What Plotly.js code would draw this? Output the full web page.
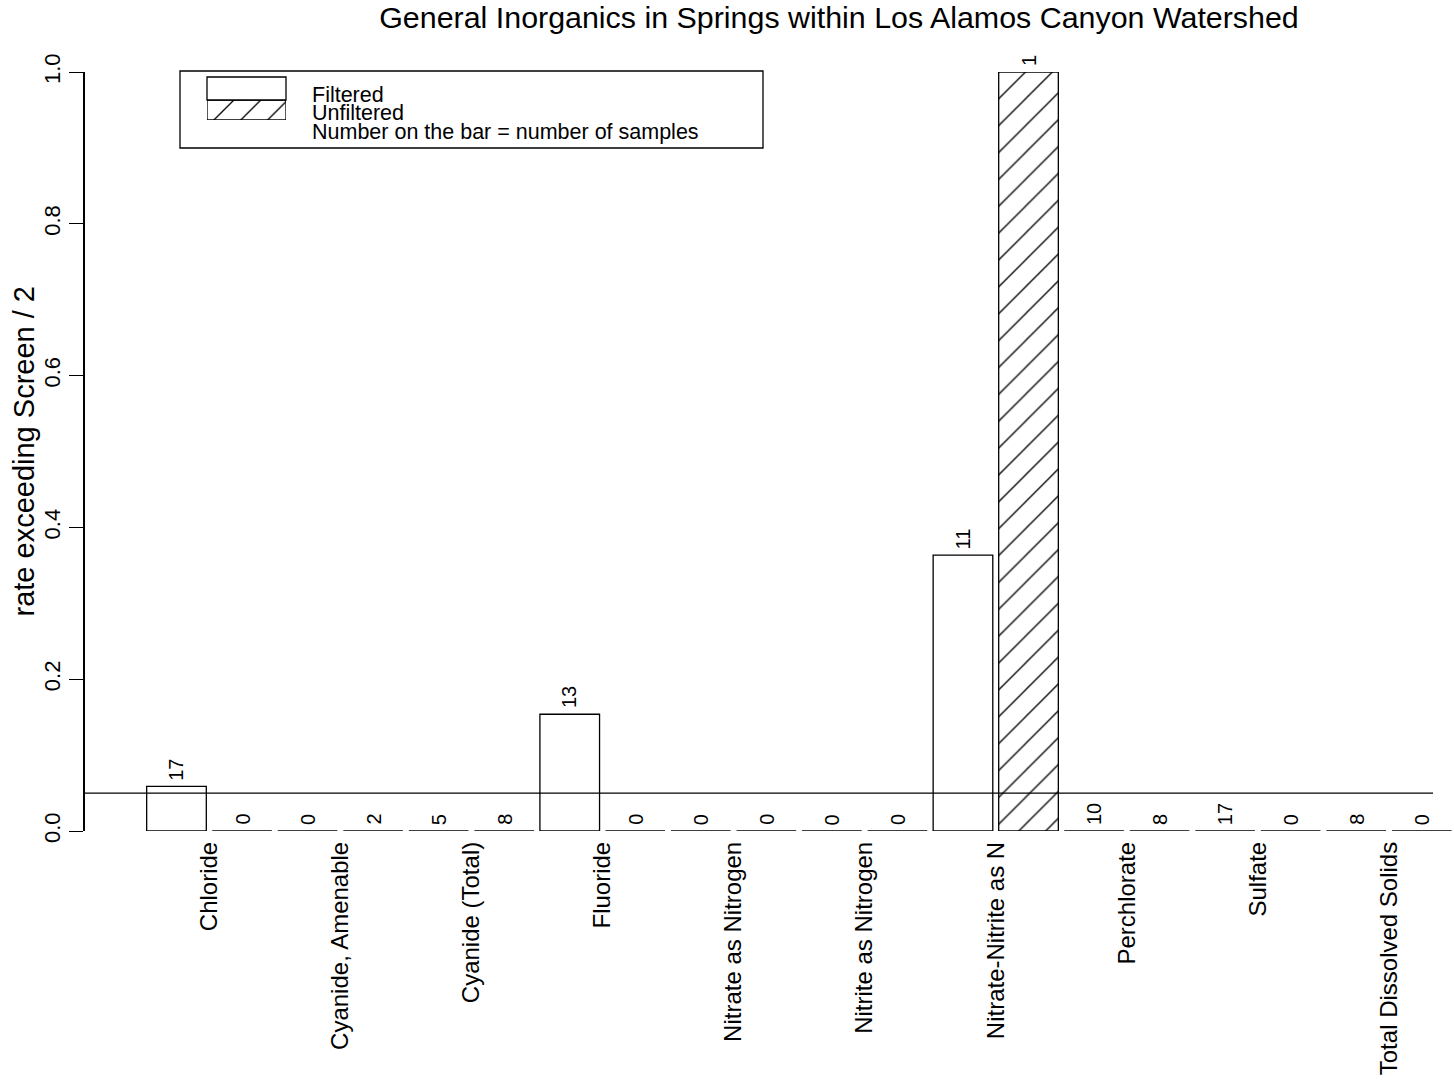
<!DOCTYPE html>
<html><head><meta charset="utf-8">
<script src="https://cdn.plot.ly/plotly-3.0.1.min.js"></script>
<style>html,body{margin:0;padding:0;background:#fff;}</style>
</head><body>
<div id="chart" style="width:1454px;height:1090px;"></div>
<script>
// ---- data ----
const categories = ["Chloride", "Cyanide, Amenable", "Cyanide (Total)", "Fluoride",
  "Nitrate as Nitrogen", "Nitrite as Nitrogen", "Nitrate-Nitrite as N",
  "Perchlorate", "Sulfate", "Total Dissolved Solids"];
const filteredRate   = [0.0588, 0, 0, 0.1538, 0, 0, 0.3636, 0, 0, 0];
const unfilteredRate = [0, 0, 0, 0, 0, 0, 1.0, 0, 0, 0];
const filteredN   = [17, 0, 5, 13, 0, 0, 11, 10, 17, 8];
const unfilteredN = [0, 2, 8, 0, 0, 0, 1, 8, 0, 0];
const screenLevel = 0.05;
const yTickVals = [0, 0.2, 0.4, 0.6, 0.8, 1.0];
const legendLabels = ["Filtered", "Unfiltered", "Number on the bar = number of samples"];
const titleText = "General Inorganics in Springs within Los Alamos Canyon Watershed";
const yTitleText = "rate exceeding Screen / 2";

// ---- styling ----
const FONT = "Liberation Sans, Arial, Helvetica, sans-serif";
const hatch = {shape: "/", fgcolor: "black", bgcolor: "white", size: 19, solidity: 0.07, fillmode: "replace"};
const outline = {color: "black", width: 1.3};
const countFont = {family: FONT, size: 20, color: "black"};

const traces = [
  {
    type: "bar", name: legendLabels[0], x: categories, y: filteredRate,
    marker: {color: "white", line: outline}, hoverinfo: "x+y"
  },
  {
    type: "bar", name: legendLabels[1], x: categories, y: unfilteredRate,
    marker: {color: "white", line: outline, pattern: hatch}, hoverinfo: "x+y"
  },
  // legend swatch for hatched (unfiltered)
  {
    type: "bar", x: [0], y: [1], width: [1], xaxis: "x2", yaxis: "y2",
    marker: {color: "white", line: outline, pattern: hatch},
    hoverinfo: "skip", showlegend: false
  }
];

// pixel helpers for the layout overlay (plot area: l=85, t=72, w=1369, h=759)
const PL = 85, PT = 72, PW = 1369, PH = 759;
const px = v => (v - PL) / PW;
const py = v => (PT + PH - v) / PH;
const xRange = [-0.948, 9.496];
const bargroupgap = 0.09;
// half a bar slot in pixels (2 bars per category, bargap 0)
const slotHalfPx = PW / (xRange[1] - xRange[0]) * 0.25;

const countAnnotations = [];
categories.forEach((c, i) => {
  countAnnotations.push({x: c, y: filteredRate[i], xref: "x", yref: "y", text: String(filteredN[i]),
    xshift: -slotHalfPx, yshift: 4, xanchor: "center", yanchor: "bottom", textangle: -90,
    showarrow: false, font: countFont});
  countAnnotations.push({x: c, y: unfilteredRate[i], xref: "x", yref: "y", text: String(unfilteredN[i]),
    xshift: slotHalfPx, yshift: 4, xanchor: "center", yanchor: "bottom", textangle: -90,
    showarrow: false, font: countFont});
});

const layout = {
  width: 1454, height: 1090,
  paper_bgcolor: "white", plot_bgcolor: "white",
  font: {family: FONT, color: "black"},
  margin: {l: PL, r: 0, t: PT, b: 1090 - PT - PH, pad: 0},
  showlegend: false,
  barmode: "group", bargap: 0, bargroupgap: bargroupgap,
  title: {text: titleText, font: {family: FONT, size: 30.4, color: "black"},
          x: 839 / 1454, xref: "container", xanchor: "center",
          y: 1 - 17 / 1090, yref: "container", yanchor: "middle"},
  xaxis: {
    type: "category", range: xRange, showgrid: false, zeroline: false,
    showline: false, ticks: "", tickangle: -90, ticklabelstandoff: 5,
    tickfont: {family: FONT, size: 24, color: "black"}, automargin: false
  },
  yaxis: {
    range: [0, 1], showgrid: false, zeroline: false, showline: true,
    linecolor: "black", linewidth: 2.5, ticks: "outside", ticklen: 14, tickwidth: 1,
    tickcolor: "black", tickvals: yTickVals, ticktext: yTickVals.map(v => v.toFixed(1)),
    tickangle: -90, tickfont: {family: FONT, size: 22, color: "black"}, automargin: false
  },
  xaxis2: {domain: [px(207), px(286)], range: [-0.5, 0.5], anchor: "y2", visible: false, fixedrange: true},
  yaxis2: {domain: [py(120), py(100)], range: [0, 1], anchor: "x2", visible: false, fixedrange: true},
  shapes: [
    {type: "line", xref: "paper", yref: "y", x0: 0, x1: px(1433), y0: screenLevel, y1: screenLevel,
     line: {color: "black", width: 1.3}},
    {type: "rect", xref: "paper", yref: "paper", x0: px(180), x1: px(763), y0: py(148), y1: py(71),
     line: {color: "black", width: 1.3}, fillcolor: "rgba(0,0,0,0)"},
    {type: "rect", xref: "paper", yref: "paper", x0: px(207), x1: px(286), y0: py(100), y1: py(77),
     line: {color: "black", width: 1.3}, fillcolor: "white"}
  ],
  annotations: [
    {text: legendLabels[0], xref: "paper", yref: "paper", x: px(310), y: py(95), xanchor: "left", yanchor: "middle",
     showarrow: false, font: {family: FONT, size: 21.5, color: "black"}},
    {text: legendLabels[1], xref: "paper", yref: "paper", x: px(310), y: py(113.5), xanchor: "left", yanchor: "middle",
     showarrow: false, font: {family: FONT, size: 21.5, color: "black"}},
    {text: legendLabels[2], xref: "paper", yref: "paper", x: px(310), y: py(132), xanchor: "left", yanchor: "middle",
     showarrow: false, font: {family: FONT, size: 21.5, color: "black"}},
    {text: yTitleText, xref: "paper", yref: "paper", x: px(23), y: 0.5, xanchor: "center", yanchor: "middle",
     textangle: -90, showarrow: false, font: {family: FONT, size: 29, color: "black"}}
  ].concat(countAnnotations)
};

Plotly.newPlot("chart", traces, layout, {displayModeBar: false, staticPlot: true});
</script>
</body></html>
